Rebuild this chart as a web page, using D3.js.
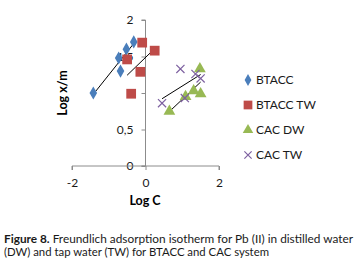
<!DOCTYPE html>
<html>
<head>
<meta charset="utf-8">
<script src="https://cdn.jsdelivr.net/npm/d3@7"></script>
<style>
  body { margin: 0; background: #fff; }
  svg { display: block; font-family: Lato, "Open Sans", sans-serif; }
</style>
</head>
<body>
<div id="chart"></div>
<script>
// Dane (log C, log x/m)
const seriesNames = ["BTACC", "BTACC TW", "CAC DW", "CAC TW"];
const btaccX = [-1.42, -0.68, -0.73, -0.52, -0.32];
const btaccY = [1.00, 1.30, 1.48, 1.60, 1.70];
const btaccTwX = [-0.09, 0.25, -0.14, -0.39, -0.50];
const btaccTwY = [1.69, 1.58, 1.29, 0.99, 1.46];
const cacDwX = [0.65, 1.09, 1.31, 1.50, 1.48];
const cacDwY = [0.75, 0.95, 1.03, 0.99, 1.33];
const cacTwX = [0.45, 1.07, 0.95, 1.36, 1.50];
const cacTwY = [0.86, 0.93, 1.33, 1.26, 1.20];
const xTicks = [-2, 0, 2];
const yTicks = [0, 0.5, 1, 1.5, 2];

const colors = ["#4a7ebb", "#be4b48", "#98b954", "#7d60a0"];
const shapes = [d3.symbolDiamond, d3.symbolSquare, d3.symbolTriangle, d3.symbolTimes];
const sizes = [50, 95, 60, 45];
const series = [
  {xs: btaccX, ys: btaccY},
  {xs: btaccTwX, ys: btaccTwY},
  {xs: cacDwX, ys: cacDwY},
  {xs: cacTwX, ys: cacTwY}
];

const width = 363, height = 266;
const svg = d3.select("#chart").append("svg")
  .attr("width", width).attr("height", height);

const xScale = d3.scaleLinear().domain([-2, 2]).range([72, 219]);
const yScale = d3.scaleLinear().domain([0, 2]).range([166, 20]);

// Osie
const yAxis = svg.append("g")
  .attr("transform", "translate(" + xScale(0) + ",0)")
  .call(d3.axisLeft(yScale).tickValues(yTicks).tickSize(4).tickPadding(8)
    .tickFormat(d => String(d).replace(".", ",")));
const xAxis = svg.append("g")
  .attr("transform", "translate(0," + yScale(0) + ")")
  .call(d3.axisBottom(xScale).tickValues(xTicks).tickSize(4).tickPadding(8)
    .tickFormat(d => String(d)));
[xAxis, yAxis].forEach(a => {
  a.select(".domain").attr("stroke", "#8c8c8c");
  a.selectAll(".tick line").attr("stroke", "#8c8c8c");
  a.selectAll("text").attr("font-size", "12px").attr("fill", "#1a1a1a")
    .attr("font-family", "Lato, sans-serif");
});
xAxis.select(".domain").attr("d", "M" + xScale(-2) + ",4V0H" + xScale(2) + "V4");
yAxis.select(".domain").attr("d", "M-4," + yScale(2) + "H0V" + yScale(0) + "H-4");

// Linie trendu (regresja liniowa)
series.forEach(s => {
  const mx = d3.mean(s.xs), my = d3.mean(s.ys);
  const sxy = d3.sum(s.xs, (x, i) => (x - mx) * (s.ys[i] - my));
  const sxx = d3.sum(s.xs, x => (x - mx) * (x - mx));
  const k = sxy / sxx, b = my - k * mx;
  const [x0, x1] = d3.extent(s.xs);
  svg.append("line")
    .attr("x1", xScale(x0)).attr("y1", yScale(k * x0 + b))
    .attr("x2", xScale(x1)).attr("y2", yScale(k * x1 + b))
    .attr("stroke", "#000").attr("stroke-width", 1);
});

// Punkty
series.forEach((s, si) => {
  svg.append("g").selectAll("path")
    .data(s.xs.map((x, i) => [x, s.ys[i]]))
    .enter().append("path")
    .attr("transform", d => "translate(" + xScale(d[0]) + "," + yScale(d[1]) + ")")
    .attr("d", d3.symbol().type(shapes[si]).size(sizes[si]))
    .attr("fill", si === 3 ? "none" : colors[si])
    .attr("stroke", si === 3 ? colors[si] : "none")
    .attr("stroke-width", 1.2);
});

// Legenda
const legend = svg.append("g");
seriesNames.forEach((name, i) => {
  const y = 80 + i * 25;
  legend.append("path")
    .attr("transform", "translate(248," + y + ")")
    .attr("d", d3.symbol().type(shapes[i]).size(sizes[i] * 0.8))
    .attr("fill", i === 3 ? "none" : colors[i])
    .attr("stroke", i === 3 ? colors[i] : "none")
    .attr("stroke-width", 1.2);
  legend.append("text")
    .attr("x", 256).attr("y", y + 4)
    .attr("font-size", "12px").attr("fill", "#1a1a1a")
    .text(name);
});

// Tytuły osi
svg.append("text")
  .attr("transform", "translate(67,93) rotate(-90)")
  .attr("text-anchor", "middle")
  .attr("font-size", "12.5px").attr("font-weight", "bold")
  .text("Log x/m");
svg.append("text")
  .attr("x", 145).attr("y", 205)
  .attr("text-anchor", "middle")
  .attr("font-size", "12.5px").attr("font-weight", "bold")
  .text("Log C");

// Podpis rysunku
const cap1 = svg.append("text").attr("x", 4).attr("y", 243)
  .attr("font-size", "11px").attr("fill", "#1a1a1a")
  .attr("textLength", 349).attr("lengthAdjust", "spacingAndGlyphs");
cap1.append("tspan").attr("font-weight", "bold").text("Figure 8.");
cap1.append("tspan").text(" Freundlich adsorption isotherm for Pb (II) in distilled water");
svg.append("text").attr("x", 4).attr("y", 256)
  .attr("font-size", "11px").attr("fill", "#1a1a1a")
  .attr("textLength", 265).attr("lengthAdjust", "spacingAndGlyphs")
  .text("(DW) and tap water (TW) for BTACC and CAC system");
</script>
</body>
</html>
